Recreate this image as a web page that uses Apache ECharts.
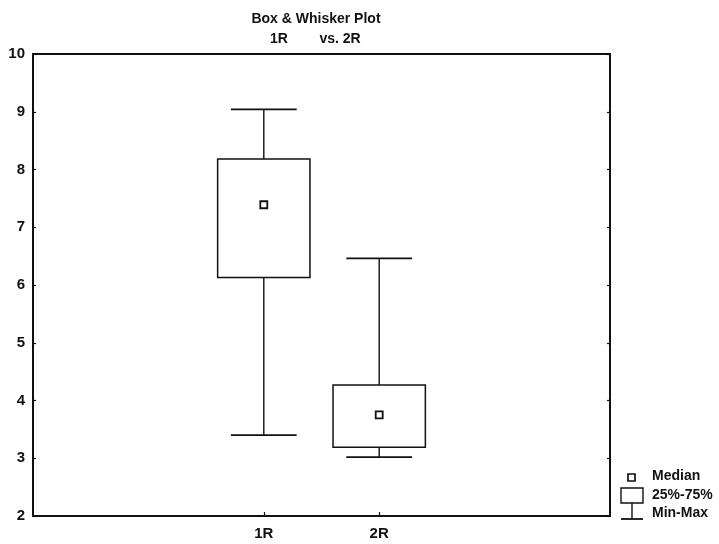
<!DOCTYPE html>
<html>
<head>
<meta charset="utf-8">
<title>Box & Whisker Plot</title>
<script src="https://cdn.jsdelivr.net/npm/echarts@6/dist/echarts.min.js"></script>
<style>
  html, body { margin: 0; padding: 0; background: #fff; }
  #chart { width: 719px; height: 544px; }
</style>
</head>
<body>
<div id="chart"></div>
<script>
// Groups and their five-number summaries
const categories = ['1R', '2R'];
const minValues = [3.40, 3.02];
const q1Values = [6.13, 3.19];
const medianValues = [7.39, 3.75];
const q3Values = [8.18, 4.27];
const maxValues = [9.04, 6.46];

// Value axis range and tick step
const yMin = 2;
const yMax = 10;
const yStep = 1;

const INK = '#111';
const FONT = '"Liberation Sans", Arial, sans-serif';

// Groups sit at x = 2, 3 on a 0..5 scale
const xOffset = 2;
const boxData = categories.map((c, i) => [
  i + xOffset, minValues[i], q1Values[i], medianValues[i], q3Values[i], maxValues[i]
]);

function renderBox(params, api) {
  const x = api.value(0);
  const pMin = api.coord([x, api.value(1)]);
  const pQ1 = api.coord([x, api.value(2)]);
  const pMed = api.coord([x, api.value(3)]);
  const pQ3 = api.coord([x, api.value(4)]);
  const pMax = api.coord([x, api.value(5)]);
  const boxHalf = api.size([0.8, 0])[0] / 2;
  const capHalf = api.size([0.57, 0])[0] / 2;
  const cx = pMed[0];
  const line = { stroke: INK, lineWidth: 1.4 };
  return {
    type: 'group',
    children: [
      { type: 'line', shape: { x1: cx, y1: pQ3[1], x2: cx, y2: pMax[1] }, style: line },
      { type: 'line', shape: { x1: cx, y1: pQ1[1], x2: cx, y2: pMin[1] }, style: line },
      { type: 'line', shape: { x1: cx - capHalf, y1: pMax[1], x2: cx + capHalf, y2: pMax[1] }, style: { stroke: INK, lineWidth: 1.8 } },
      { type: 'line', shape: { x1: cx - capHalf, y1: pMin[1], x2: cx + capHalf, y2: pMin[1] }, style: { stroke: INK, lineWidth: 1.8 } },
      { type: 'rect', shape: { x: cx - boxHalf, y: pQ3[1], width: boxHalf * 2, height: pQ1[1] - pQ3[1] },
        style: { fill: 'transparent', stroke: INK, lineWidth: 1.5 } },
      { type: 'rect', shape: { x: cx - 3.5, y: pMed[1] - 3.5, width: 7, height: 7 },
        style: { fill: '#fff', stroke: INK, lineWidth: 1.8 } }
    ]
  };
}

const chart = echarts.init(document.getElementById('chart'), null, { renderer: 'canvas' });

const labelStyle = { color: INK, fontFamily: FONT, fontWeight: 'bold' };

chart.setOption({
  backgroundColor: '#fff',
  animation: false,
  title: [
    { text: 'Box & Whisker Plot', left: 311, top: 7, textAlign: 'center',
      textStyle: { ...labelStyle, fontSize: 14 } },
    { text: '1R', left: 274, top: 27, textAlign: 'center',
      textStyle: { ...labelStyle, fontSize: 14 } },
    { text: 'vs. 2R', left: 335, top: 27, textAlign: 'center',
      textStyle: { ...labelStyle, fontSize: 14 } }
  ],
  grid: {
    left: 33, right: 109, top: 54, bottom: 28,
    show: true, borderColor: INK, borderWidth: 2, backgroundColor: 'transparent'
  },
  xAxis: {
    type: 'value', min: 0, max: 5, interval: 1,
    axisLine: { show: true, onZero: false, lineStyle: { color: INK, width: 2 } },
    axisTick: { show: true, inside: true, length: 4, customValues: categories.map((c, i) => i + xOffset),
      lineStyle: { color: INK, width: 1.2 } },
    axisLabel: { customValues: categories.map((c, i) => i + xOffset), margin: 10,
      formatter: v => categories[v - xOffset] || '', ...labelStyle, fontSize: 15 },
    splitLine: { show: false }
  },
  yAxis: [
    {
      type: 'value', min: yMin, max: yMax, interval: yStep, position: 'left',
      axisLine: { show: true, lineStyle: { color: INK, width: 1.6 } },
      axisTick: { show: true, inside: true, length: 3, lineStyle: { color: INK, width: 1.2 } },
      axisLabel: { margin: 8, ...labelStyle, fontSize: 15 },
      splitLine: { show: false }
    },
    {
      type: 'value', min: yMin, max: yMax, interval: yStep, position: 'right',
      axisLine: { show: true, lineStyle: { color: INK, width: 2 } },
      axisTick: { show: true, inside: true, length: 3, lineStyle: { color: INK, width: 1.2 } },
      axisLabel: { show: false },
      splitLine: { show: false }
    }
  ],
  series: [{
    type: 'custom',
    renderItem: renderBox,
    data: boxData,
    encode: { x: 0, y: [1, 2, 3, 4, 5] },
    clip: false
  }],
  graphic: [
    // Legend key: median marker, interquartile box, min-max whisker
    { type: 'rect', shape: { x: 628, y: 474, width: 7, height: 7 },
      style: { fill: '#fff', stroke: INK, lineWidth: 1.7 } },
    { type: 'text', left: 652, top: 469, style: { text: 'Median', fill: INK, font: 'bold 14px ' + FONT } },
    { type: 'rect', shape: { x: 621, y: 488, width: 22, height: 15 },
      style: { fill: 'transparent', stroke: INK, lineWidth: 1.4 } },
    { type: 'text', left: 652, top: 488, style: { text: '25%-75%', fill: INK, font: 'bold 14px ' + FONT } },
    { type: 'line', shape: { x1: 632, y1: 503, x2: 632, y2: 519 }, style: { stroke: INK, lineWidth: 1.4 } },
    { type: 'line', shape: { x1: 621, y1: 519, x2: 643, y2: 519 }, style: { stroke: INK, lineWidth: 1.8 } },
    { type: 'text', left: 652, top: 506, style: { text: 'Min-Max', fill: INK, font: 'bold 14px ' + FONT } }
  ]
});
</script>
</body>
</html>
